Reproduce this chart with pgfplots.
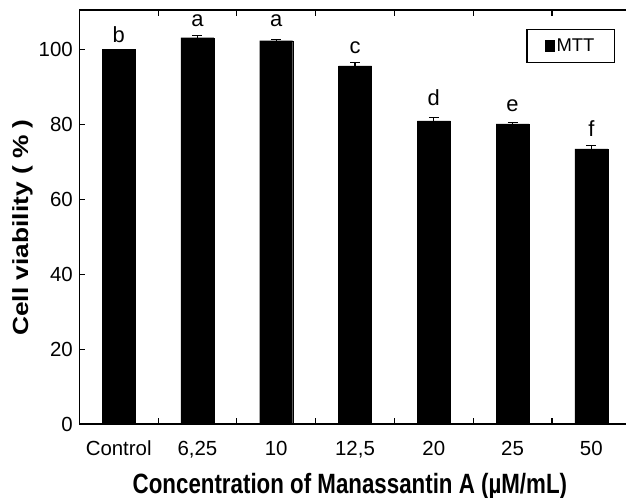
\documentclass[border=0pt]{standalone}
\usepackage{fontspec}
\setmainfont{Liberation Sans}
\newfontfamily\xlabfont[FakeStretch=0.8]{Liberation Sans}
\newfontfamily\ylabfont[FakeStretch=1.2]{Liberation Sans}
\usepackage{pgfplots}
\pgfplotsset{compat=1.18}
\begin{document}
\begin{tikzpicture}
\begin{axis}[
  at={(79.3bp,74bp)}, anchor=south west,
  scale only axis, width=546.7bp, height=414bp,
  xmin=-0.5, xmax=6.44, ymin=0, ymax=110.5,
  axis y line*=left,
  axis line style={line width=1.3bp},
  tick align=inside,
  major tick length=6bp,
  every tick/.style={black, line width=1.1bp},
  xtick={0.5,1.5,2.5,3.5,4.5,5.5},
  xticklabels={},
  extra x ticks={0,1,2,3,4,5,6},
  extra x tick labels={Control,{6,25},10,{12,5},20,25,50},
  extra x tick style={major tick length=0bp, grid=none},
  ytick={0,20,40,60,80,100},
  ticklabel style={font=\fontsize{20.5}{20.5}\selectfont},
  /pgf/number format/assume math mode=true,
  yticklabel style={xshift=-3bp},
  xticklabel style={anchor=base, yshift=-31bp},
  xlabel={\xlabfont\bfseries Concentration of Manassantin A (µM/mL)},
  xlabel style={font=\fontsize{28}{28}\selectfont, at={(axis description cs:0.495,-0.1674)}, anchor=base},
  ylabel={\ylabfont\bfseries Cell viability ( \% )},
  ylabel style={font=\fontsize{22}{22}\selectfont, at={(axis description cs:-0.0938,0.4746)}, anchor=base, rotate=0},
  legend style={at={(0.98,0.954)}, anchor=north east, draw=black, line width=1.2bp,
    font=\fontsize{18.5}{18.5}\selectfont, inner xsep=18bp, inner ysep=7.5bp,
    /tikz/every odd column/.append style={column sep=0bp}},
  legend image code/.code={\fill[black] (0bp,-5.5bp) rectangle (8.5bp,5.5bp);},
  legend cell align=left,
]
\addplot[ybar, bar width=33bp, fill=black, draw=black,
  error bars/.cd, y dir=plus, y explicit,
  error bar style={line width=1.2bp, black},
  error mark options={rotate=90, mark size=5bp, line width=1.2bp, black}]
  coordinates {
  (0,100) +- (0,0)
  (1,103.1) +- (0,0.5)
  (2,102.3) +- (0,0.4)
  (3,95.6) +- (0,0.9)
  (4,80.9) +- (0,0.8)
  (5,80.1) +- (0,0.3)
  (6,73.4) +- (0,0.9)
  };
\addlegendentry{MTT}
\begin{scope}[every node/.style={font=\fontsize{22}{22}\selectfont, anchor=base}]
\node at (axis cs:0,101.8) {b};
\node at (axis cs:1,106) {a};
\node at (axis cs:2,106) {a};
\node at (axis cs:3,99) {c};
\node at (axis cs:4,84.9) {d};
\node at (axis cs:5,83.3) {e};
\node at (axis cs:6,76.7) {f};
\end{scope}
\end{axis}
\pgfresetboundingbox
\useasboundingbox (0,0) rectangle (626bp,498bp);
\end{tikzpicture}
\end{document}
